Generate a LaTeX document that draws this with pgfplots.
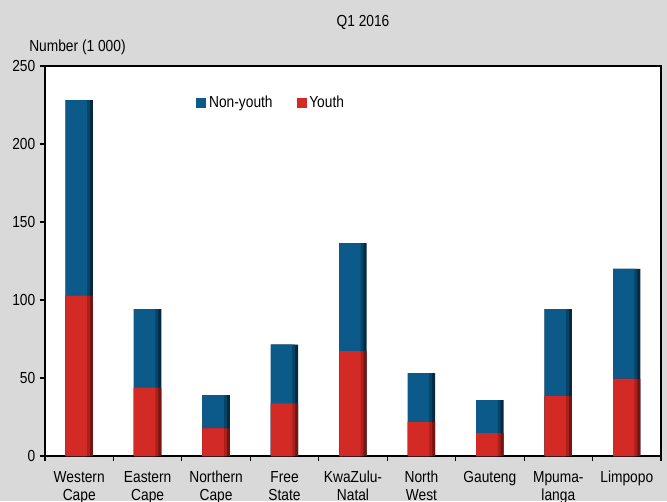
\documentclass[border=0pt]{standalone}
\usepackage{pgfplots}
\pgfplotsset{compat=1.18}
\usepackage{pgfplotstable}
\usepackage{fontspec}
\setmainfont{Liberation Sans}[FakeStretch=0.86]
\definecolor{bg}{RGB}{217,217,217}
\definecolor{bluemid}{RGB}{12,90,137}
\definecolor{bluesemi}{RGB}{8,68,104}
\definecolor{bluedark}{RGB}{4,42,66}
\definecolor{redmid}{RGB}{212,42,38}
\definecolor{redsemi}{RGB}{172,32,28}
\definecolor{reddark}{RGB}{120,20,16}

\pgfplotstableread{
x youth nonyouth
0 102.8 125.4
1 43.8 50.4
2 17.7 21.4
3 33.8 37.6
4 67.3 69.2
5 21.8 31.4
6 14.7 21.2
7 38.5 55.7
8 49.4 70.5
}\datatable

\begin{document}
\begin{tikzpicture}[x=0.75pt,y=0.75pt]
\path[use as bounding box] (0,0) rectangle (667,501);
\fill[bg] (0,0) rectangle (667,501);
\clip (0,0) rectangle (667,501);
\node[font=\fontsize{12}{14}\selectfont] at (363,479) {Q1 2016};
\node[font=\fontsize{12}{14}\selectfont, anchor=west, inner sep=0pt] at (29,454) {Number (1 000)};
\begin{axis}[
  at={(33.75pt,33.75pt)}, anchor=south west,
  scale only axis, width=462pt, height=292.5pt,
  ybar,
  xmin=-0.5, xmax=8.5, ymin=0, ymax=250,
  ytick={0,50,...,250}, ytick pos=left,
  tick align=outside, major tick length=3.75pt,
  xtick={-0.5,0.5,...,8.5}, xticklabels={}, xtick pos=bottom,
  extra x ticks={0,1,...,8},
  extra x tick labels={{Western\\Cape},{Eastern\\Cape},{Northern\\Cape},{Free\\State},{KwaZulu-\\Natal},{North\\West},{Gauteng\\\strut},{Mpuma-\\langa},{Limpopo\\\strut}},
  extra x tick style={major tick length=0pt, xticklabel style={yshift=-8pt}},
  axis line style={line width=1.2pt},
  tick style={black, line width=0.8pt},
  axis background/.style={fill=white},
  /pgf/number format/assume math mode=true,
  ticklabel style={font=\fontsize{12}{13.5}\selectfont},
  xticklabel style={align=center},
  legend columns=2,
  legend style={at={(rel axis cs:0.239,0.905)}, anchor=west, draw=none, fill=none,
    font=\fontsize{12}{14}\selectfont,
    /tikz/every even column/.append style={column sep=16pt},
    /tikz/every odd column/.append style={xshift=-2pt}},
  legend image code/.code={\path[#1] (0pt,-3.75pt) rectangle (7.5pt,3.75pt);},
]
\addlegendimage{fill=bluemid, draw=none}
\addlegendentry{Non-youth}
\addlegendimage{fill=redmid, draw=none}
\addlegendentry{Youth}
\addplot[forget plot, draw=none, fill=bluedark, bar width=20.5pt, bar shift=0pt]
  table[x=x, y expr=\thisrow{youth}+\thisrow{nonyouth}]{\datatable};
\addplot[forget plot, draw=none, fill=bluesemi, bar width=18.25pt, bar shift=-1.125pt]
  table[x=x, y expr=\thisrow{youth}+\thisrow{nonyouth}]{\datatable};
\addplot[forget plot, draw=none, fill=bluemid, bar width=16pt, bar shift=-2.25pt]
  table[x=x, y expr=\thisrow{youth}+\thisrow{nonyouth}]{\datatable};
\addplot[forget plot, draw=none, fill=reddark, bar width=20.5pt, bar shift=0pt]
  table[x=x, y=youth]{\datatable};
\addplot[forget plot, draw=none, fill=redsemi, bar width=18.25pt, bar shift=-1.125pt]
  table[x=x, y=youth]{\datatable};
\addplot[forget plot, draw=none, fill=redmid, bar width=16pt, bar shift=-2.25pt]
  table[x=x, y=youth]{\datatable};
\end{axis}
\end{tikzpicture}
\end{document}
